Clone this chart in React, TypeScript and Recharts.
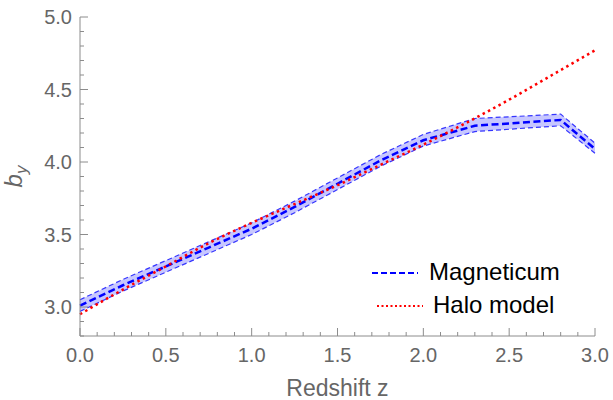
import { Area, ComposedChart, Legend, Line, XAxis, YAxis } from "recharts";

// Magneticum snapshots: mean bias and its scatter band
const magZ = [0, 0.25, 0.5, 0.75, 1.0, 1.25, 1.5, 1.75, 2.0, 2.3, 2.8, 3.0];
const magMid = [3.01, 3.15, 3.28, 3.41, 3.54, 3.69, 3.85, 4.01, 4.15, 4.25, 4.29, 4.09];
const magHi = [3.05, 3.19, 3.32, 3.45, 3.58, 3.73, 3.89, 4.05, 4.19, 4.3, 4.33, 4.13];
const magLo = [2.97, 3.11, 3.24, 3.37, 3.5, 3.65, 3.81, 3.97, 4.11, 4.21, 4.25, 4.06];

// halo model prediction
const haloZ = [0, 0.25, 0.5, 0.75, 1.0, 1.25, 1.5, 1.75, 2.0, 2.25, 2.5, 2.75, 3.0];
const haloB = [2.95, 3.12, 3.28, 3.44, 3.58, 3.71, 3.84, 3.98, 4.12, 4.27, 4.43, 4.6, 4.77];

const xTicks = [
  0, 0.1, 0.2, 0.3, 0.4, 0.5, 0.6, 0.7, 0.8, 0.9, 1.0, 1.1, 1.2, 1.3, 1.4, 1.5, 1.6, 1.7, 1.8, 1.9, 2.0,
  2.1, 2.2, 2.3, 2.4, 2.5, 2.6, 2.7, 2.8, 2.9, 3.0,
];
const yTicks = [
  2.8, 2.9, 3.0, 3.1, 3.2, 3.3, 3.4, 3.5, 3.6, 3.7, 3.8, 3.9, 4.0, 4.1, 4.2, 4.3, 4.4, 4.5, 4.6, 4.7, 4.8,
  4.9, 5.0,
];

const magData = magZ.map((z, i) => ({ z, mid: magMid[i], band: [magLo[i], magHi[i]], lo: magLo[i], hi: magHi[i] }));
const haloData = haloZ.map((z, i) => ({ z, b: haloB[i] }));

const FRAME = "#8c8c8c";
const TEXT = "#666666";
const FONT = "'Liberation Sans', Arial, Helvetica, sans-serif";

const isMajor = (v: number) => Math.abs(v * 2 - Math.round(v * 2)) < 1e-6;

function XTick({ x, y, payload, top }: any) {
  const major = isMajor(payload.value);
  const len = major ? 8 : 4;
  return (
    <g>
      <line x1={x} x2={x} y1={y} y2={top ? y + len : y - len} stroke={FRAME} strokeWidth={1} />
      {!top && major && (
        <text x={x} y={y + 26} textAnchor="middle" fontSize={20} fill={TEXT} fontFamily={FONT}>
          {payload.value.toFixed(1)}
        </text>
      )}
    </g>
  );
}

function YTick({ x, y, payload, right }: any) {
  const major = isMajor(payload.value);
  const len = major ? 8 : 4;
  return (
    <g>
      <line x1={x} x2={right ? x - len : x + len} y1={y} y2={y} stroke={FRAME} strokeWidth={1} />
      {!right && major && (
        <text x={x - 8} y={y} dy="0.35em" textAnchor="end" fontSize={20} fill={TEXT} fontFamily={FONT}>
          {payload.value.toFixed(1)}
        </text>
      )}
    </g>
  );
}

function YLabel({ viewBox }: any) {
  const cx = viewBox.x + 22;
  const cy = viewBox.y + viewBox.height / 2;
  return (
    <text
      x={cx}
      y={cy}
      transform={`rotate(-90, ${cx}, ${cy})`}
      textAnchor="middle"
      fontSize={24}
      fontStyle="italic"
      fill={TEXT}
      fontFamily={FONT}
    >
      b
      <tspan dy={5} fontSize={17}>
        y
      </tspan>
    </text>
  );
}

function XLabel({ viewBox }: any) {
  return (
    <text
      x={viewBox.x + viewBox.width / 2}
      y={viewBox.y + 60}
      textAnchor="middle"
      fontSize={23}
      fill={TEXT}
      fontFamily={FONT}
    >
      Redshift z
    </text>
  );
}

function LegendBox() {
  return (
    <svg width={613} height={400} style={{ position: "absolute", left: 0, top: 0, overflow: "visible", pointerEvents: "none" }}>
      <line x1={372} x2={418} y1={273} y2={273} stroke="#0000ff" strokeWidth={2} strokeDasharray="6 3" />
      <text x={429} y={280} fontSize={24} fill="#000" fontFamily={FONT}>
        Magneticum
      </text>
      <line x1={377} x2={423} y1={306} y2={306} stroke="#ff0000" strokeWidth={2} strokeDasharray="2 2.5" />
      <text x={433} y={313} fontSize={24} fill="#000" fontFamily={FONT}>
        Halo model
      </text>
    </svg>
  );
}

export default function App() {
  return (
    <div style={{ position: "absolute", left: 0, top: 0, width: 613, height: 400, background: "#fff" }}>
      <ComposedChart width={613} height={400} margin={{ top: 17, right: 18, bottom: 0, left: 0 }}>
        <XAxis
          xAxisId="b"
          dataKey="z"
          type="number"
          domain={[0, 3]}
          ticks={xTicks}
          interval={0}
          tickSize={0}
          tickMargin={0}
          height={64}
          stroke={FRAME}
          tick={<XTick />}
          label={{ content: (p: any) => <XLabel {...p} /> }}
          allowDuplicatedCategory={false}
        />
        <XAxis
          xAxisId="t"
          orientation="top"
          dataKey="z"
          type="number"
          domain={[0, 3]}
          ticks={xTicks}
          interval={0}
          tickSize={0}
          tickMargin={0}
          height={0}
          stroke={FRAME}
          tick={<XTick top />}
          allowDuplicatedCategory={false}
        />
        <YAxis
          yAxisId="l"
          type="number"
          domain={[2.8, 5.0]}
          ticks={yTicks}
          interval={0}
          tickSize={0}
          tickMargin={0}
          width={80}
          stroke={FRAME}
          tick={<YTick />}
          label={{ content: (p: any) => <YLabel {...p} /> }}
        />
        <YAxis
          yAxisId="r"
          orientation="right"
          type="number"
          domain={[2.8, 5.0]}
          ticks={yTicks}
          interval={0}
          tickSize={0}
          tickMargin={0}
          width={0}
          stroke={FRAME}
          tick={<YTick right />}
        />
        <Area
          xAxisId="b"
          yAxisId="l"
          data={magData}
          dataKey="band"
          type="linear"
          stroke="none"
          fill="#0000ff"
          fillOpacity={0.22}
          isAnimationActive={false}
        />
        <Line
          xAxisId="b"
          yAxisId="l"
          data={magData}
          dataKey="hi"
          type="linear"
          stroke="#3535ff"
          strokeWidth={1.2}
          strokeDasharray="5 3"
          dot={false}
          isAnimationActive={false}
        />
        <Line
          xAxisId="b"
          yAxisId="l"
          data={magData}
          dataKey="lo"
          type="linear"
          stroke="#3535ff"
          strokeWidth={1.2}
          strokeDasharray="5 3"
          dot={false}
          isAnimationActive={false}
        />
        <Line
          xAxisId="b"
          yAxisId="l"
          data={magData}
          dataKey="mid"
          name="Magneticum"
          type="linear"
          stroke="#0000ff"
          strokeWidth={2.5}
          strokeDasharray="7 3.5"
          dot={false}
          isAnimationActive={false}
        />
        <Line
          xAxisId="b"
          yAxisId="l"
          data={haloData}
          dataKey="b"
          name="Halo model"
          type="monotone"
          stroke="#ff0000"
          strokeWidth={2.5}
          strokeDasharray="2.5 3.5"
          dot={false}
          isAnimationActive={false}
        />
        <Legend content={() => <LegendBox />} wrapperStyle={{ left: 0, top: 0, width: 0, height: 0 }} />
      </ComposedChart>
    </div>
  );
}
